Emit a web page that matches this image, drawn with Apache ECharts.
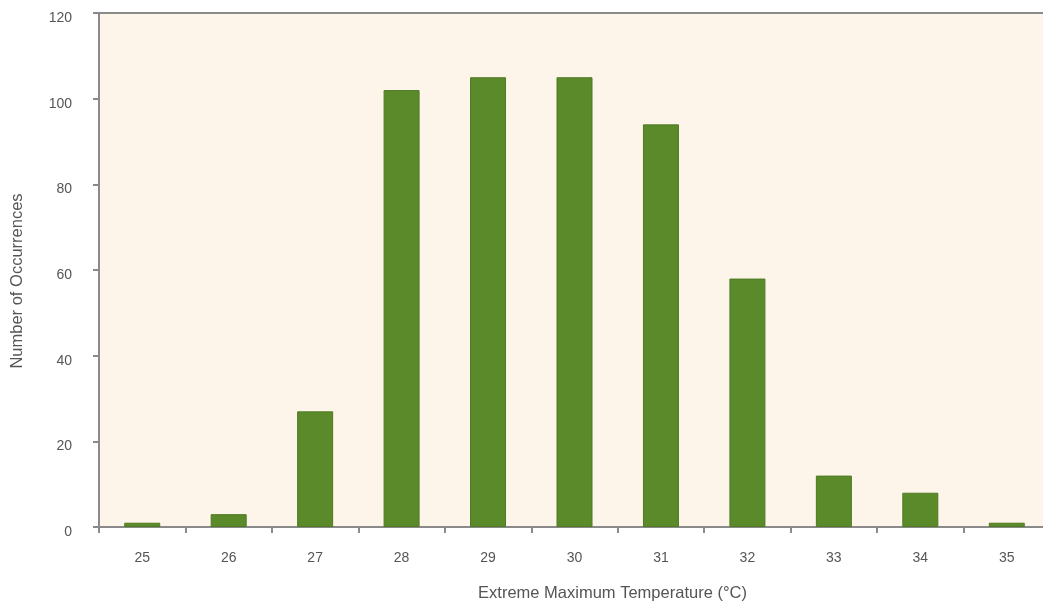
<!DOCTYPE html>
<html><head><meta charset="utf-8">
<script src="https://cdn.jsdelivr.net/npm/echarts@6/dist/echarts.min.js"></script>
<style>html,body{margin:0;padding:0;background:#fff}#c{width:1043px;height:603px}</style>
</head><body><div id="c"></div>
<script>
const categories = ['25','26','27','28','29','30','31','32','33','34','35'];
const occurrences = [1,3,27,102,105,105,94,58,12,8,1];
const yTicks = [0,20,40,60,80,100,120];
const xTitle = 'Extreme Maximum Temperature (\u00B0C)';
const yTitle = 'Number of Occurrences';

const chart = echarts.init(document.getElementById('c'));
const txt = {color:'#555', fontFamily:'Liberation Sans, Arial, sans-serif', fontSize:14};
chart.setOption({
  animation:false,
  grid:{left:99, top:13, width:951, height:514, show:true, backgroundColor:'#fdf4ea', borderWidth:0,
        containLabel:false, outerBoundsMode:'none'},
  xAxis:[{
    type:'category', data:categories, position:'bottom',
    axisLine:{lineStyle:{color:'#8a8a8a', width:2}},
    axisTick:{show:true, alignWithLabel:false, length:6, lineStyle:{color:'#8a8a8a', width:2}},
    axisLabel:Object.assign({margin:24}, txt),
    name:xTitle, nameLocation:'middle', nameGap:58,
    nameTextStyle:Object.assign({}, txt, {fontSize:16.5, padding:[0,0,0,76]})
  },{
    type:'category', data:categories, position:'top',
    axisLine:{lineStyle:{color:'#8a8a8a', width:2}},
    axisTick:{show:false}, axisLabel:{show:false}
  }],
  yAxis:{
    type:'value', min:yTicks[0], max:yTicks[yTicks.length-1], interval:yTicks[1]-yTicks[0],
    axisLine:{show:true, lineStyle:{color:'#8a8a8a', width:2}},
    axisTick:{show:true, length:6, lineStyle:{color:'#8a8a8a', width:2}},
    splitLine:{show:false},
    axisLabel:Object.assign({margin:27, verticalAlign:'top', lineHeight:10}, txt),
    name:yTitle, nameLocation:'middle', nameGap:73,
    nameTextStyle:Object.assign({}, txt, {fontSize:16.5, padding:[0,22,0,0]})
  },
  series:[{
    type:'bar', data:occurrences, barWidth:36, xAxisIndex:0,
    itemStyle:{color:'#5b8a2a', borderColor:'#4f7a22', borderWidth:1}
  }]
});
</script></body></html>
